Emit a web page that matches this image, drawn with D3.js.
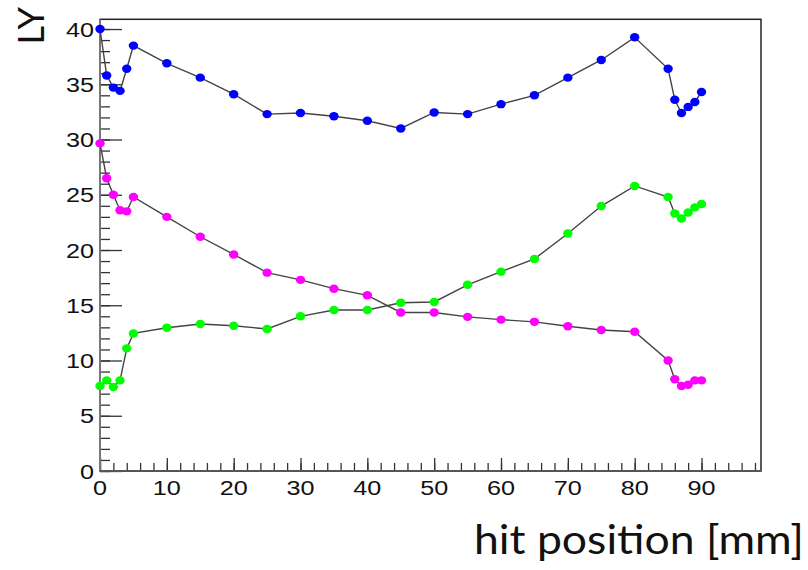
<!DOCTYPE html>
<html>
<head>
<meta charset="utf-8">
<script src="https://cdn.jsdelivr.net/npm/d3@7"></script>
<style>
  body { margin: 0; background: #fff; }
  svg { display: block; }
</style>
</head>
<body>
<div class="canva"></div>
<script>
// hit positions (mm)
const positions = [0, 1, 2, 3, 4, 5, 10, 15, 20, 25, 30, 35, 40, 45, 50, 55, 60, 65, 70, 75, 80, 85, 86, 87, 88, 89, 90];

// light yield per series
const blueLY = [40.0, 35.8, 34.7, 34.4, 36.4, 38.5, 36.9, 35.6, 34.1, 32.3, 32.4, 32.1, 31.7, 31.0, 32.45, 32.3, 33.2, 34.0, 35.6, 37.2, 39.25, 36.4, 33.6, 32.4, 32.95, 33.4, 34.3];
const magentaLY = [29.65, 26.5, 25.0, 23.6, 23.5, 24.8, 23.0, 21.2, 19.6, 17.95, 17.3, 16.5, 15.9, 14.35, 14.35, 13.95, 13.7, 13.5, 13.1, 12.76, 12.6, 10.0, 8.3, 7.7, 7.8, 8.2, 8.2];
const greenLY = [7.7, 8.2, 7.6, 8.2, 11.1, 12.45, 12.97, 13.3, 13.15, 12.85, 14.0, 14.57, 14.57, 15.23, 15.3, 16.85, 18.04, 19.19, 21.5, 23.98, 25.8, 24.8, 23.3, 22.85, 23.4, 23.86, 24.16];

const xTicks = [0, 10, 20, 30, 40, 50, 60, 70, 80, 90];
const yTicks = [0, 5, 10, 15, 20, 25, 30, 35, 40];

const width = 808, height = 570;
const margin = { top: 19.3, right: 47, bottom: 99, left: 100 };

const svg = d3.select(".canva").append("svg")
    .attr("width", width)
    .attr("height", height)
    .attr("viewBox", [0, 0, width, height]);

svg.append("rect").attr("width", width).attr("height", height).attr("fill", "#fff");

const x = d3.scaleLinear([0, 98.9], [margin.left, width - margin.right]);
const y = d3.scaleLinear([0, 40.88], [height - margin.bottom, margin.top]);

// frame
svg.append("rect")
    .attr("x", x(0)).attr("y", y(40.88))
    .attr("width", x(98.9) - x(0))
    .attr("height", y(0) - y(40.88))
    .attr("fill", "none")
    .attr("stroke", "#222")
    .attr("stroke-width", 1.5);

// x axis: major every 10, minor every 2, ticks pointing inward
const gx = svg.append("g").attr("transform", `translate(0,${y(0)})`);
gx.call(d3.axisTop(x).tickValues(d3.range(0, 99, 2)).tickSize(8).tickFormat(""))
    .call(g => g.select(".domain").remove());
gx.append("g")
    .call(d3.axisTop(x).tickValues(xTicks).tickSize(13).tickFormat(""))
    .call(g => g.select(".domain").remove());
gx.selectAll(".tick line").attr("stroke", "#333").attr("stroke-width", 1.3);
gx.selectAll(".xlab")
    .data(xTicks)
    .join("text")
    .attr("class", "xlab")
    .attr("transform", d => `translate(${x(d)},24) scale(1.2,1)`)
    .attr("text-anchor", "middle")
    .attr("font-family", "Liberation Sans, Arial, sans-serif")
    .attr("font-size", 21)
    .attr("fill", "#111")
    .text(d => d);

// y axis: major every 5, minor every 1
const gy = svg.append("g").attr("transform", `translate(${x(0)},0)`);
gy.call(d3.axisRight(y).tickValues(d3.range(0, 41, 1)).tickSize(10).tickFormat(""))
    .call(g => g.select(".domain").remove());
gy.append("g")
    .call(d3.axisRight(y).tickValues(yTicks).tickSize(22).tickFormat(""))
    .call(g => g.select(".domain").remove());
gy.selectAll(".tick line").attr("stroke", "#333").attr("stroke-width", 1.3);
gy.selectAll(".ylab")
    .data(yTicks)
    .join("text")
    .attr("class", "ylab")
    .attr("transform", d => `translate(-6,${y(d) + 7.5}) scale(1.2,1)`)
    .attr("text-anchor", "end")
    .attr("font-family", "Liberation Sans, Arial, sans-serif")
    .attr("font-size", 21)
    .attr("fill", "#111")
    .text(d => d);

// axis lines
svg.append("line")
    .attr("x1", x(0)).attr("x2", x(0))
    .attr("y1", y(0)).attr("y2", y(40.88))
    .attr("stroke", "#777").attr("stroke-width", 2);
svg.append("line")
    .attr("x1", x(0)).attr("x2", x(98.9))
    .attr("y1", y(0)).attr("y2", y(0))
    .attr("stroke", "#555").attr("stroke-width", 2);

const series = [
    { values: blueLY, color: "#0000ff" },
    { values: magentaLY, color: "#ff00ff" },
    { values: greenLY, color: "#00ff00" }
];

const line = d3.line()
    .x((d, i) => x(positions[i]))
    .y(d => y(d));

series.forEach(s => {
    svg.append("path")
        .attr("d", line(s.values))
        .attr("fill", "none")
        .attr("stroke", "#444")
        .attr("stroke-width", 1.4);

    svg.append("g")
        .selectAll("ellipse")
        .data(s.values)
        .join("ellipse")
        .attr("cx", (d, i) => x(positions[i]))
        .attr("cy", d => y(d))
        .attr("rx", 4.7)
        .attr("ry", 4.2)
        .attr("fill", s.color);
});

// axis titles
svg.append("text")
    .attr("transform", "translate(44,7) rotate(-90)")
    .attr("text-anchor", "end")
    .attr("font-family", "Lato, Open Sans, sans-serif")
    .attr("font-size", 36)
    .attr("fill", "#111")
    .text("LY");

svg.append("text")
    .attr("x", 474)
    .attr("y", 554)
    .attr("textLength", 330)
    .attr("lengthAdjust", "spacingAndGlyphs")
    .attr("font-family", "Lato, Open Sans, sans-serif")
    .attr("font-size", 40)
    .attr("fill", "#111")
    .text("hit position [mm]");
</script>
</body>
</html>
